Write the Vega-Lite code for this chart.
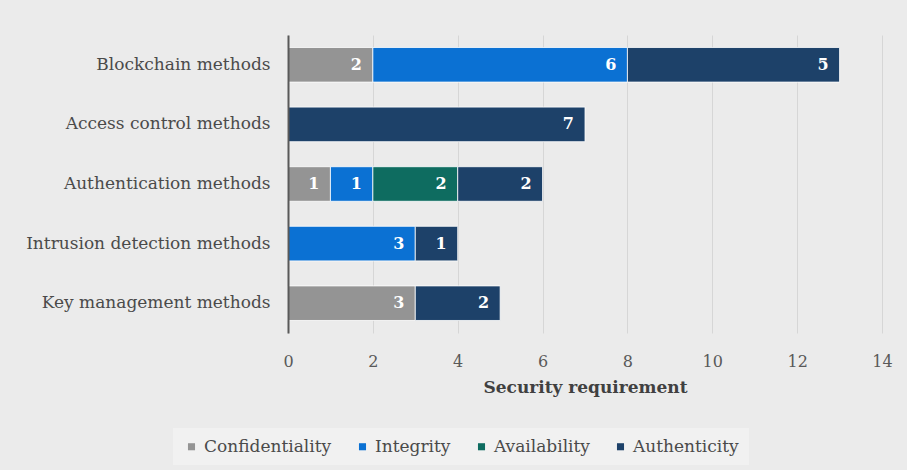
{
  "$schema": "https://vega.github.io/schema/vega-lite/v6.json",
  "width": 594,
  "height": 298,
  "autosize": {"type": "none"},
  "padding": {"left": 288, "top": 35, "right": 25, "bottom": 137},
  "background": "#ebebeb",
  "config": {
    "view": {"stroke": null},
    "font": "DejaVu Serif"
  },
  "data": {
    "values": [
      {"method": "Blockchain methods", "requirement": "Confidentiality", "count": 2},
      {"method": "Blockchain methods", "requirement": "Integrity", "count": 6},
      {"method": "Blockchain methods", "requirement": "Authenticity", "count": 5},
      {"method": "Access control methods", "requirement": "Authenticity", "count": 7},
      {"method": "Authentication methods", "requirement": "Confidentiality", "count": 1},
      {"method": "Authentication methods", "requirement": "Integrity", "count": 1},
      {"method": "Authentication methods", "requirement": "Availability", "count": 2},
      {"method": "Authentication methods", "requirement": "Authenticity", "count": 2},
      {"method": "Intrusion detection methods", "requirement": "Integrity", "count": 3},
      {"method": "Intrusion detection methods", "requirement": "Authenticity", "count": 1},
      {"method": "Key management methods", "requirement": "Confidentiality", "count": 3},
      {"method": "Key management methods", "requirement": "Authenticity", "count": 2}
    ]
  },
  "transform": [
    {"calculate": "indexof(['Confidentiality','Integrity','Availability','Authenticity'], datum.requirement)", "as": "ord"},
    {"stack": "count", "groupby": ["method"], "sort": [{"field": "ord", "order": "ascending"}], "as": ["x0", "x1"]}
  ],
  "encoding": {
    "y": {
      "field": "method",
      "type": "nominal",
      "sort": ["Blockchain methods", "Access control methods", "Authentication methods", "Intrusion detection methods", "Key management methods"],
      "scale": {"paddingInner": 0.42, "paddingOuter": 0.21},
      "axis": {
        "title": null,
        "ticks": false,
        "domain": true,
        "domainColor": "#595959",
        "domainWidth": 2,
        "zindex": 2,
        "labelFont": "DejaVu Serif",
        "labelFontSize": 17,
        "labelLimit": 300,
        "labelColor": "#4a4a4a",
        "labelPadding": 18
      }
    }
  },
  "layer": [
    {
      "mark": {"type": "bar", "stroke": "#ffffff", "strokeWidth": 0.8},
      "encoding": {
        "x": {
          "field": "x0",
          "type": "quantitative",
          "scale": {"domain": [0, 14]},
          "axis": {
            "title": "Security requirement",
            "values": [0, 2, 4, 6, 8, 10, 12, 14],
            "domain": false,
            "ticks": false,
            "grid": true,
            "gridColor": "#d6d6d6",
            "gridWidth": 1,
            "labelFlush": false,
            "labelFont": "DejaVu Serif",
            "labelFontSize": 16,
            "labelColor": "#595959",
            "labelPadding": 20,
            "titleFont": "DejaVu Serif",
            "titleFontSize": 17,
            "titleFontWeight": "bold",
            "titleColor": "#404040",
            "titlePadding": 10
          }
        },
        "x2": {"field": "x1"},
        "color": {
          "field": "requirement",
          "type": "nominal",
          "scale": {
            "domain": ["Confidentiality", "Integrity", "Availability", "Authenticity"],
            "range": ["#949494", "#0b71d3", "#0e6c60", "#1d4169"]
          },
          "legend": {
            "title": null,
            "orient": "none",
            "direction": "horizontal",
            "legendX": -115,
            "legendY": 393,
            "symbolType": "square",
            "symbolSize": 50,
            "symbolStrokeWidth": 0,
            "labelFont": "DejaVu Serif",
            "labelFontSize": 17,
            "labelColor": "#4a4a4a",
            "labelOffset": 4,
            "columnPadding": 22,
            "fillColor": "#f1f1f1",
            "padding": 10
          }
        }
      }
    },
    {
      "mark": {"type": "text", "align": "right", "dx": -11, "baseline": "middle", "fontWeight": "bold", "fontSize": 16, "font": "DejaVu Serif", "color": "#ffffff"},
      "encoding": {
        "x": {"field": "x1", "type": "quantitative"},
        "text": {"field": "count", "type": "quantitative"}
      }
    }
  ]
}
